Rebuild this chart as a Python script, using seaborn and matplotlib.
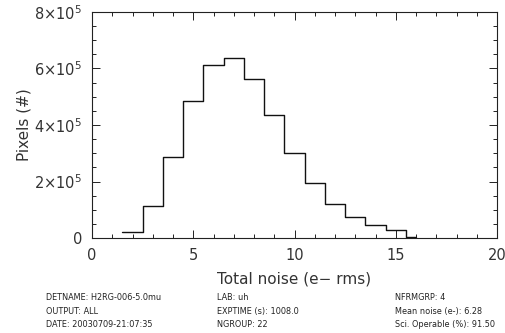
import numpy as np
import seaborn as sns
import matplotlib.pyplot as plt
from matplotlib.ticker import MultipleLocator, FuncFormatter

# histogram of total noise per pixel (bin centres in e- rms, counts in pixels)
noise_centres = [2, 3, 4, 5, 6, 7, 8, 9, 10, 11, 12, 13, 14, 15, 16]
pixel_counts = [2.1e4, 1.15e5, 2.88e5, 4.84e5, 6.14e5, 6.38e5, 5.63e5, 4.34e5,
                3.02e5, 1.95e5, 1.21e5, 7.5e4, 4.7e4, 2.9e4, 2e3]
bin_edges = [1.5, 2.5, 3.5, 4.5, 5.5, 6.5, 7.5, 8.5, 9.5, 10.5, 11.5, 12.5,
             13.5, 14.5, 15.5, 16.0]

info_left = ["DETNAME: H2RG-006-5.0mu", "OUTPUT: ALL", "DATE: 20030709-21:07:35"]
info_mid = ["LAB: uh", "EXPTIME (s): 1008.0", "NGROUP: 22"]
info_right = ["NFRMGRP: 4", "Mean noise (e-): 6.28", "Sci. Operable (%): 91.50"]


def sci_label(v, pos):
    if v == 0:
        return "0"
    exp = int(np.floor(np.log10(abs(v))))
    mant = v / 10 ** exp
    return r"$%d{\times}10^{%d}$" % (round(mant), exp)


sns.set_style("ticks")
plt.rcParams["font.family"] = ["DejaVu Sans"]
plt.rcParams["mathtext.fontset"] = "dejavusans"
plt.rcParams["mathtext.default"] = "regular"

fig = plt.figure(figsize=(5.06, 3.33), dpi=100)
ax = fig.add_axes([92 / 506, 1 - 238 / 333, (497 - 92) / 506, (238 - 12) / 333])

sns.histplot(x=noise_centres, weights=pixel_counts, bins=bin_edges,
             element="step", fill=False, color="#111111", linewidth=1.0, ax=ax)

ax.set_xlim(0, 20)
ax.set_ylim(0, 8e5)
ax.xaxis.set_major_locator(MultipleLocator(5))
ax.xaxis.set_minor_locator(MultipleLocator(1))
ax.yaxis.set_major_locator(MultipleLocator(2e5))
ax.yaxis.set_minor_locator(MultipleLocator(5e4))
ax.yaxis.set_major_formatter(FuncFormatter(sci_label))

for side in ["top", "right", "bottom", "left"]:
    ax.spines[side].set_visible(True)
    ax.spines[side].set_linewidth(0.8)
    ax.spines[side].set_color("#222222")

ax.tick_params(which="both", direction="in", top=True, right=True,
               color="#222222", width=0.7)
ax.tick_params(which="major", length=5.5, labelsize=10.5, labelcolor="#333333", pad=7)
ax.tick_params(which="minor", length=3)

ax.set_xlabel("Total noise (e\u2212 rms)", fontsize=11, color="#333333", labelpad=6)
ax.set_ylabel("Pixels (#)", fontsize=11, color="#333333", labelpad=2)

row_y = [0.108, 0.066, 0.026]
for col_x, lines in zip([46 / 506, 217 / 506, 395 / 506],
                        [info_left, info_mid, info_right]):
    for y, txt in zip(row_y, lines):
        fig.text(col_x, y, txt, fontsize=5.85, color="#222222", va="center")

fig.savefig("out.png", dpi=100)
